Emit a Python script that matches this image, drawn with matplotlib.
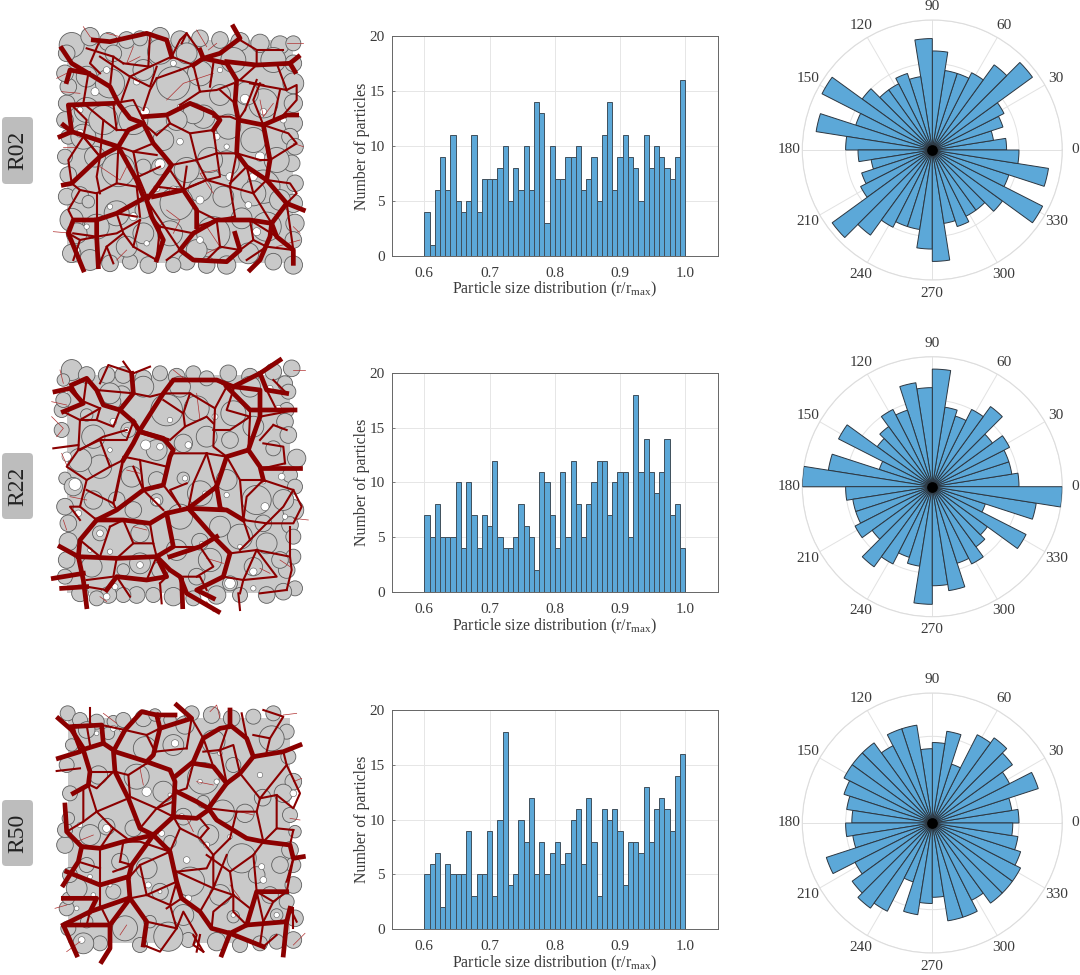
import numpy as np
import matplotlib
matplotlib.use('Agg')
import matplotlib.pyplot as plt
from matplotlib.patches import Circle, FancyBboxPatch, Rectangle

plt.rcParams['font.family'] = ['Liberation Serif', 'DejaVu Serif']
plt.rcParams['mathtext.fontset'] = 'custom'
plt.rcParams['mathtext.rm'] = 'Liberation Serif'

names = ['R02', 'R22', 'R50']

# histogram counts, 50 bins from 0.6 to 1.0
hist_r02 = [4,1,6,9,6,11,5,4,5,11,4,7,7,7,8,10,5,8,6,10,6,14,13,3,10,
            7,7,9,9,10,6,7,9,5,11,14,6,9,11,9,8,5,11,8,10,9,8,7,9,16]
hist_r22 = [7,5,8,5,5,5,10,4,10,7,4,7,6,12,5,4,4,5,8,6,5,2,11,10,7,
            4,11,5,12,8,5,8,10,12,12,7,10,11,11,5,18,11,14,11,9,11,14,7,8,4]
hist_r50 = [5,6,7,2,6,5,5,5,9,3,5,5,9,3,10,18,4,5,10,8,12,5,8,5,7,
            8,6,7,10,11,6,12,8,3,11,10,11,9,4,8,8,7,13,8,11,12,11,9,14,16]

# rose counts, 40 bins of 9 degrees from 0
rose_r02 = [12,10,12,13,20,17,14,13,13,16,18,12,13,12,12,14,20,13,19,14,
            12,10,12,13,20,17,14,13,13,16,18,12,13,12,12,14,20,13,19,14]
rose_r22 = [14,13,13,14,12,16,14,12,13,19,16,17,13,14,12,11,17,9,17,21,
            14,13,13,14,12,16,14,12,13,19,16,17,13,14,12,11,17,9,17,21]
rose_r50 = [14,13,18,14,16,17,16,10,15,13,12,16,16,14,16,16,16,15,14,13,
            14,13,18,14,16,17,16,10,15,13,12,16,16,14,16,16,16,15,14,13]

rose_angles = [0,30,60,90,120,150,180,210,240,270,300,330]

# particles, x y r at 3x scale
circles_r02 = [(215,75,30),(270,50,22),(325,65,22),(380,60,20),(420,55,18),(480,50,22),(540,60,22),(600,55,20),
    (660,60,20),(720,65,22),(780,70,22),(840,75,22),(880,70,18),(880,130,20),(880,190,25),(880,250,22),(880,310,22),
    (870,350,20),(885,380,20),(875,430,20),(885,490,20),(880,550,22),(885,610,22),(880,660,20),(880,735,22),
    (820,725,20),(745,700,25),(680,735,22),(620,735,20),(560,725,20),(520,735,18),(445,735,20),(390,725,18),
    (330,730,20),(270,720,25),(215,700,22),(215,600,28),(200,530,20),(205,465,20),(195,410,18),(205,350,18),
    (195,300,20),(200,250,20),(205,200,20),(195,160,20),(200,100,20),(480,95,30),(340,100,20),(610,290,28),
    (600,510,28),(790,250,35),(580,280,25),(685,320,30),(490,360,25),(430,440,18),(285,410,25),(355,450,40),
    (240,525,20),(265,545,15),(530,550,40),(430,640,25),(640,640,40),(725,595,25),(790,500,40),(830,420,30),
    (660,225,25),(740,220,28),(600,160,30),(520,190,40),(430,150,25),(330,190,35),(260,270,30),(250,350,30),
    (400,300,35),(310,300,35),(530,300,25),(480,440,20),(680,430,30),(760,360,30),(760,520,30),(670,530,25),
    (350,580,30),(290,620,30),(230,640,25),(510,640,30),(590,690,25),(380,680,25),(800,620,35),(840,540,25),
    (820,120,30),(700,120,30),(560,100,25),(630,420,30),(560,450,30),(260,170,25),(430,570,20)]
circles_r22 = [(215,60,25),(260,75,20),(320,75,20),(370,75,20),(430,85,20),(480,70,18),(530,80,20),(580,70,18),
    (620,85,18),(685,70,20),(750,80,20),(820,65,20),(875,55,20),(855,100,18),(865,125,18),(860,180,18),(855,215,20),
    (865,255,20),(890,325,22),(870,375,18),(885,410,18),(880,480,25),(870,525,20),(880,560,18),(880,620,18),
    (860,660,20),(885,715,18),(850,725,20),(800,735,20),(720,735,18),(650,735,22),(580,745,18),(520,740,22),
    (460,735,18),(410,735,20),(370,735,18),(325,735,20),(290,745,18),(240,730,20),(195,680,18),(200,630,20),
    (205,575,22),(205,520,20),(195,470,20),(195,385,15),(220,410,22),(185,240,18),(185,180,18),(190,90,15),
    (190,150,18),(365,135,22),(340,155,18),(280,260,28),(385,240,18),(260,195,15),(330,130,25),(430,110,25),
    (540,110,25),(590,175,30),(500,180,38),(690,270,20),(750,110,25),(820,295,18),(700,190,30),(760,230,25),
    (620,260,25),(550,280,22),(470,300,25),(395,380,25),(300,350,28),(240,330,28),(680,390,25),(550,385,15),
    (470,390,20),(600,430,30),(280,450,22),(350,450,20),(470,450,15),(770,450,35),(850,450,25),(300,550,18),
    (420,550,22),(530,600,25),(600,575,20),(720,560,30),(630,630,28),(370,660,15),(760,650,22),(840,630,20),
    (275,650,25),(420,640,25),(480,660,20),(690,700,18),(590,680,20),(800,580,25),(790,520,20),(540,500,30),
    (660,530,25),(400,480,20)]
circles_r50 = [(203,55,18),(240,75,18),(290,80,18),(340,80,15),(370,75,18),(430,70,20),(465,60,15),(510,75,15),
    (555,90,22),(575,55,18),(635,60,20),(695,70,20),(760,65,18),(820,55,18),(860,110,18),(865,185,18),(880,260,20),
    (850,295,22),(870,360,18),(885,410,15),(870,465,20),(880,510,18),(880,570,20),(860,620,18),(885,670,20),
    (880,735,20),(830,740,18),(780,745,18),(720,750,18),(650,740,22),(565,735,18),(505,725,35),(420,750,18),
    (375,700,30),(300,745,18),(250,745,25),(205,700,18),(200,640,18),(205,610,15),(230,580,25),(210,540,18),
    (195,450,20),(195,405,18),(205,370,15),(210,295,18),(200,210,18),(215,150,15),(325,115,15),(435,160,28),
    (260,105,20),(520,150,25),(640,140,28),(700,210,18),(815,130,30),(410,245,30),(295,240,22),(610,250,38),
    (490,290,25),(788,308,20),(668,350,28),(550,365,20),(735,355,22),(270,420,25),(320,395,20),(625,420,25),
    (725,490,35),(840,510,20),(510,440,15),(440,520,25),(260,510,18),(360,500,20),(570,560,35),(480,590,20),
    (340,590,18),(700,665,15),(660,600,25),(810,600,20),(830,660,15),(550,660,25),(450,680,15),(260,680,15),
    (610,320,15),(400,400,20),(770,540,20)]

# white pores between particles, x y r
pores_r02 = [(435,275,13),(285,215,12),(240,340,12),(480,432,15),(735,237,14),(780,410,14),(690,470,12),(410,185,10),
    (520,130,9),(540,365,10),(600,540,12),(520,510,12),(790,275,10),(650,350,10),(400,590,12),(470,505,10),(320,150,10),
    (660,150,8),(745,555,10),(770,635,12),(600,660,10),(230,690,9),(440,670,8),(330,560,8),(240,270,9),(850,300,9),
    (680,380,8),(260,620,8),(760,470,12),(540,260,8)]
pores_r22 = [(437,285,15),(225,403,18),(340,215,10),(200,320,14),(470,455,12),(690,700,16),(795,470,12),(680,435,8),
    (835,175,9),(810,115,9),(845,380,10),(300,550,10),(235,490,10),(480,290,10),(565,285,10),(645,200,9),(330,605,8),
    (270,600,7),(420,645,10),(345,710,9),(555,385,8),(615,430,7),(760,665,11),(760,715,8),(510,210,8),(330,300,7),
    (380,240,8),(605,580,6),(720,590,7),(790,395,7),(855,500,8),(320,740,10)]
pores_r50 = [(525,145,11),(365,105,6),(340,100,9),(440,290,14),(320,400,12),(565,610,10),(780,240,8),(880,295,10),
    (545,365,9),(485,415,9),(790,555,10),(785,515,9),(620,450,9),(690,425,7),(510,300,6),(560,495,10),(240,390,8),
    (270,545,7),(330,570,6),(445,570,9),(230,640,7),(245,735,10),(280,600,7),(660,175,7),(480,590,6),(600,260,7),
    (650,260,8),(830,660,8),(700,660,7),(290,115,7)]

# packed region left, top, right, bottom
region_r02 = (200, 60, 880, 730)
region_r22 = (200, 75, 870, 730)
region_r50 = (205, 70, 870, 745)

# force chains traced by eye, same 3x scale
heavy_r02 = [
    [(185,85),(215,130),(265,160),(330,200),(355,250),(390,295),(430,310),(460,370),(490,405),(515,435),(470,500),(440,540),(455,590),(490,660),(470,720)],
    [(280,60),(330,65),(440,40),(500,60),(515,110)],
    [(430,290),(500,285),(570,250),(640,280),(660,300),(640,330)],
    [(580,135),(610,115),(680,130),(710,180),(705,250),(715,300),(790,315),(860,285),(890,285)],
    [(610,115),(600,90)],
    [(610,115),(660,100),(720,55),(700,20)],
    [(680,125),(770,135),(870,130),(895,110)],
    [(870,130),(885,155)],
    [(715,300),(710,400),(740,440),(800,480),(860,550),(910,570)],
    [(860,550),(815,610),(750,600),(650,600),(580,640),(540,690),(580,720),(680,725),(720,690),(705,640)],
    [(815,610),(830,650),(880,690),(880,730)],
    [(815,610),(810,650),(780,720),(750,750)],
    [(440,530),(350,580),(290,600),(220,600),(205,640),(250,750)],
    [(290,600),(290,650),(295,740)],
    [(430,530),(410,480),(355,380),(300,410),(215,490),(190,495)],
    [(355,380),(385,330),(430,310)],
    [(355,380),(215,335),(180,350)],
    [(215,335),(190,315)],
    [(215,335),(205,255),(340,250)],
    [(790,315),(810,420),(800,480)],
    [(460,530),(550,510),(590,570),(590,620)],
    [(200,185),(210,150),(265,160)],
]
mid_r02 = [
    [(300,60),(270,130),(300,160)],[(370,130),(450,140),(515,110)],[(300,110),(390,170),(450,140)],[(390,170),(365,240)],
    [(390,170),(450,200),(470,140)],[(515,110),(540,60),(560,40),(610,110)],[(540,150),(580,135)],[(470,175),(450,210),(430,270)],
    [(470,175),(540,150)],[(580,135),(600,215),(650,210),(700,190)],[(600,215),(540,255)],[(720,60),(770,90),(770,135),(720,180)],
    [(750,190),(860,210),(890,195),(890,240),(850,285)],[(770,180),(735,270)],[(715,180),(790,195)],
    [(640,290),(690,290),(715,300)],[(640,330),(650,400),(710,400)],[(650,400),(590,420),(570,340),(510,310),(470,345)],
    [(470,405),(400,395),(415,470),(480,440)],[(515,435),(590,420)],[(560,440),(550,510),(510,450)],
    [(710,400),(690,500),(620,480),(570,500)],[(690,500),(705,590)],[(740,440),(690,490)],
    [(800,480),(870,490),(890,520),(860,550)],[(810,420),(890,370),(865,340),(790,315)],[(590,620),(650,600)],
    [(580,640),(480,620),(455,590)],[(350,580),(370,640),(400,680),(470,720)],[(370,640),(320,680),(295,740)],
    [(440,540),(480,600),(540,690)],[(290,650),(350,640),(420,600)],[(215,490),(240,510),(290,520),(350,490),(410,500)],
    [(290,520),(290,600)],[(240,510),(205,570),(220,600)],[(250,350),(300,410),(290,470),(300,520)],
    [(215,255),(260,300),(250,350)],[(265,160),(250,250)],[(340,250),(350,330)],[(880,690),(800,680),(740,720)],
    [(750,600),(760,660),(720,690)],
    [(260,85),(340,110),(370,130)],[(340,110),(330,200)],[(450,40),(445,140)],[(515,110),(580,135)],[(560,40),(545,70)],
    [(640,130),(630,200)],[(770,90),(850,90)],[(830,130),(860,210)],[(705,250),(660,210)],[(735,270),(715,300)],
    [(790,315),(760,240),(780,190)],[(840,210),(820,300)],[(470,345),(430,310)],[(510,310),(500,285)],[(570,340),(640,330)],
    [(400,395),(355,380)],[(415,470),(440,530)],[(460,370),(400,395)],[(590,420),(620,480)],[(650,400),(660,470),(620,480)],
    [(710,400),(780,420),(810,420)],[(740,440),(760,520),(800,480)],[(690,500),(760,520),(815,610)],[(705,590),(650,600)],
    [(550,510),(620,480)],[(590,570),(650,600)],[(470,500),(550,510)],[(510,450),(470,500)],
    [(300,410),(250,350)],[(215,490),(205,420),(250,350)],[(250,250),(310,300),(350,330)],[(310,300),(300,410)],
    [(350,330),(385,330)],[(340,250),(400,240),(430,300)],[(350,490),(355,380)],[(410,500),(420,590)],[(350,580),(410,590)],
    [(220,640),(290,650)],[(320,680),(340,730)],[(400,680),(420,600)],[(480,620),(470,720)],[(540,690),(500,720)],
    [(650,600),(660,680),(720,690)],[(660,680),(620,720)],[(750,600),(830,650)],[(760,660),(800,680)],[(860,550),(870,620),(880,690)],
    [(205,640),(240,660),(290,650)],[(240,660),(220,720)],
]
fine_r02 = [
    [(250,20),(270,50),(300,70)],[(320,40),(360,50)],[(590,30),(620,80)],[(170,175),(200,160)],[(185,215),(240,220)],
    [(160,635),(220,640)],[(625,90),(650,70)],[(400,80),(380,130),(420,110)],[(500,240),(550,190),(640,160)],
    [(780,240),(790,290),(820,250)],[(650,450),(600,460),(640,520)],[(300,440),(360,480),(380,440)],
    [(500,570),(540,600),(520,640)],[(380,690),(350,720)],[(620,620),(660,680),(620,700)],[(880,620),(900,640)],
    [(830,680),(900,660)],[(880,370),(910,380)],[(860,70),(910,70)],[(230,380),(190,380)],
]

heavy_r22 = [
    [(165,125),(210,115),(250,160),(190,185)],
    [(180,590),(235,620),(240,570),(290,510),(350,480),(430,420),(490,405),(510,320),(520,300),(490,265),(420,245),(400,215)],
    [(235,620),(350,625),(470,620),(510,660),(540,680),(560,730),(655,785)],
    [(235,620),(250,690),(260,770)],
    [(160,685),(250,670)],
    [(185,715),(260,710)],
    [(290,510),(370,510),(450,520),(500,490),(565,475),(650,410),(680,320),(745,300),(780,350),(790,390)],
    [(790,355),(900,355)],
    [(745,300),(780,200),(780,120),(700,110),(650,90),(520,90),(490,130),(420,240),(400,280),(370,330)],
    [(680,110),(750,180),(885,180)],
    [(700,110),(780,70),(840,30)],
    [(780,70),(800,120),(860,130)],
    [(565,475),(640,560),(690,610),(670,680),(590,720),(640,745)],
    [(565,475),(680,480),(730,510)],
    [(395,70),(400,130),(360,180),(310,165),(290,120),(260,85),(215,105)],
    [(360,180),(400,215)],
    [(420,245),(500,270)],
    [(650,410),(660,470)],
    [(500,490),(520,590),(470,620)],
    [(510,620),(600,590),(650,560)],
    [(470,620),(500,680),(440,690),(350,680),(320,720)],
    [(545,690),(548,770)],
]
mid_r22 = [
    [(680,320),(720,390),(730,510)],[(680,110),(645,175),(640,290),(680,320)],[(520,310),(620,310),(680,320)],
    [(620,310),(640,380),(650,410)],[(790,390),(880,420),(905,470),(880,520),(800,520),(730,510)],
    [(790,280),(850,290),(855,340)],[(780,200),(885,180)],[(820,225),(860,240)],[(700,120),(680,180),(750,200)],
    [(490,150),(550,190),(555,230),(510,270)],[(555,230),(620,200),(640,220)],[(190,185),(240,210),(300,175)],
    [(240,210),(235,300),(200,350),(260,390),(240,470),(210,470),(240,510)],[(430,420),(420,330),(370,320),(340,460)],
    [(370,330),(345,450)],[(370,510),(400,580),(460,580),(470,620)],[(330,530),(300,620)],[(430,420),(490,480)],
    [(690,610),(770,600),(870,620),(875,660),(860,720)],[(770,600),(830,680),(730,690)],[(730,510),(750,570),(720,600)],
    [(400,70),(450,50)],[(395,70),(370,35)],[(400,70),(325,45),(300,100)],[(540,680),(600,680),(620,720)],
    [(350,625),(340,680),(260,690)],[(480,700),(485,760)],[(715,730),(720,780)],[(820,90),(860,130)],
    [(160,295),(235,285)],[(240,300),(310,260),(380,240)],[(560,400),(510,420),(540,470)],
    [(215,105),(240,150),(300,175)],[(260,85),(250,160)],[(290,120),(400,130)],[(400,130),(450,140),(490,130)],
    [(360,180),(340,230),(290,210)],[(300,175),(290,210),(240,210)],[(400,215),(380,270),(300,270),(235,300)],
    [(300,270),(330,350),(370,330)],[(330,350),(260,390)],[(340,460),(260,420)],[(340,460),(350,480)],[(240,470),(290,510)],
    [(420,330),(500,350)],[(430,420),(400,350)],[(490,130),(570,130),(645,175)],[(570,130),(550,190)],[(650,90),(680,110)],
    [(750,180),(750,200),(745,300)],[(750,200),(690,240),(640,240)],[(820,225),(780,270)],[(800,120),(830,180)],
    [(855,340),(790,355)],[(720,390),(790,390)],[(730,510),(740,440),(790,390)],[(880,420),(850,470),(800,520)],
    [(620,310),(580,400),(565,475)],[(510,320),(490,405)],[(490,405),(540,470)],[(660,470),(680,480)],[(450,520),(460,580)],
    [(370,510),(330,530)],[(400,580),(350,625)],[(240,570),(300,620)],[(520,590),(600,590)],[(600,590),(640,650),(590,680)],
    [(670,680),(730,690),(770,600)],[(690,610),(670,680)],[(750,570),(800,520)],[(860,720),(780,730)],[(730,690),(720,730)],
    [(500,680),(480,700)],[(350,680),(390,740)],[(260,710),(320,720)],[(440,690),(470,620)],[(870,620),(870,530)],
]
fine_r22 = [
    [(180,60),(190,100)],[(880,60),(915,60)],[(155,155),(200,165)],[(155,200),(190,235),(170,260)],[(185,310),(200,345)],
    [(520,60),(570,100)],[(590,130),(600,210)],[(380,360),(420,370)],[(210,440),(260,450)],[(880,505),(925,510)],
    [(190,510),(200,540)],[(400,530),(440,540)],[(620,625),(670,640)],[(780,655),(810,670)],[(840,630),(870,650)],
    [(300,740),(320,755)],[(620,755),(640,785)],
]

heavy_r50 = [
    [(175,70),(215,105),(250,160),(240,170),(175,190)],
    [(250,165),(270,230),(265,270),(220,295)],
    [(215,95),(305,90),(310,145),(245,165)],
    [(310,145),(340,165),(345,230),(385,310),(420,400),(460,420),(520,365),(525,260),(510,225),(440,200),(345,170)],
    [(525,245),(580,200),(610,130),(660,100),(690,95),(690,45)],
    [(580,205),(640,215),(680,265),(720,235),(760,185),(850,170),(900,150)],
    [(760,185),(740,130),(690,90)],
    [(680,265),(625,340),(650,375),(740,430),(790,440),(870,450),(880,490),(910,485)],
    [(625,340),(590,320),(530,290)],
    [(520,365),(590,370),(625,345)],
    [(460,420),(510,470),(530,560),(545,610),(600,650),(635,700),(690,715),(740,690),(755,640),(770,590),(860,590)],
    [(690,715),(790,755)],
    [(690,715),(665,780)],
    [(740,690),(860,680),(870,640)],
    [(860,680),(850,780)],
    [(460,420),(395,510),(385,550),(390,610),(330,690),(330,760),(305,800)],
    [(385,610),(270,650),(190,690)],
    [(390,610),(440,680),(430,750)],
    [(385,545),(300,570),(200,530)],
    [(460,420),(370,440),(300,460),(245,455),(200,410),(195,330)],
    [(245,455),(235,500),(190,570)],
    [(330,690),(190,690),(230,780)],
    [(270,650),(290,610),(190,610)],
    [(525,60),(470,60),(425,50),(375,105),(345,160)],
    [(470,60),(480,100),(575,70),(530,30)],
    [(480,100),(460,180),(440,200)],
]
mid_r50 = [
    [(340,230),(290,280),(270,270)],[(440,205),(385,240),(390,305),(470,340),(520,320)],[(470,340),(420,400)],
    [(465,170),(560,160)],[(575,70),(610,130)],[(720,235),(780,310),(830,300),(880,340),(900,295),(860,210),(850,170)],
    [(780,310),(770,350),(710,350),(690,430)],[(830,300),(830,400),(880,405)],[(625,400),(600,430),(540,400),(520,365)],
    [(600,430),(640,480),(620,520),(530,530)],[(620,480),(690,530),(700,600),(750,640)],
    [(790,440),(760,480),(770,590),(790,680)],[(640,480),(640,580),(680,480)],[(510,470),(420,510),(385,550)],
    [(250,280),(250,380),(200,410)],[(300,460),(340,400),(380,430)],[(360,500),(395,510),(340,530)],
    [(300,570),(300,630)],[(440,600),(510,630),(530,560)],[(440,680),(530,700),(550,650),(590,720),(580,750),(610,770)],
    [(240,170),(220,90),(260,90)],[(680,105),(660,165),(610,170)],[(870,640),(890,680)],[(545,610),(500,640)],
    [(790,45),(850,65),(810,130),(760,120)],[(725,55),(740,130)],[(170,228),(240,220)],[(880,490),(860,560)],
    [(270,40),(270,85)],[(590,770),(600,720)],[(880,640),(880,700)],
    [(215,105),(240,170)],[(260,90),(270,150)],[(305,90),(375,105)],[(375,105),(440,120),(480,100)],[(440,120),(465,170)],
    [(560,160),(575,70)],[(345,230),(270,230)],[(265,270),(290,350),(250,380)],[(290,350),(385,310)],[(340,400),(290,350)],
    [(385,240),(345,230)],[(470,340),(520,365)],[(530,290),(470,340)],[(580,205),(560,280),(530,290)],[(640,215),(610,130)],
    [(660,165),(680,265)],[(720,235),(700,150),(660,165)],[(800,170),(810,130)],[(860,210),(780,310)],[(770,350),(790,440)],
    [(830,400),(790,440)],[(880,405),(870,450)],[(710,350),(625,340)],[(690,430),(640,480)],[(760,480),(690,530)],
    [(600,370),(625,400)],[(540,400),(510,470)],[(530,530),(640,580)],[(640,580),(700,600)],[(530,560),(440,600)],
    [(420,510),(440,600),(390,610)],[(510,470),(420,440),(370,440)],[(300,460),(300,520),(300,570)],[(235,500),(300,520)],
    [(360,500),(370,440)],[(300,630),(330,690)],[(270,650),(260,690)],[(510,630),(530,700)],[(430,750),(480,770),(530,700)],
    [(600,650),(640,580)],[(700,600),(640,650),(635,700)],[(770,590),(820,620),(860,590)],[(820,620),(790,680)],
    [(790,680),(780,750)],[(860,590),(880,490)],[(740,690),(700,650),(700,600)],[(610,770),(580,720)],[(790,755),(830,720)],
]
fine_r50 = [
    [(310,55),(350,85)],[(630,50),(650,30),(660,70)],[(850,60),(890,55)],[(880,750),(915,715)],[(200,770),(240,740)],
    [(165,640),(200,630)],[(420,220),(430,270)],[(590,260),(640,270)],[(230,440),(280,420)],[(560,370),(580,410)],
    [(690,570),(720,610)],[(360,720),(380,690)],[(720,350),(760,360)],[(880,260),(905,250)],[(870,370),(900,375)],
]

circles_all = [circles_r02, circles_r22, circles_r50]
pores_all = [pores_r02, pores_r22, pores_r50]
region_all = [region_r02, region_r22, region_r50]
heavy_all = [heavy_r02, heavy_r22, heavy_r50]
mid_all = [mid_r02, mid_r22, mid_r50]
fine_all = [fine_r02, fine_r22, fine_r50]
hist_all = [hist_r02, hist_r22, hist_r50]
rose_all = [rose_r02, rose_r22, rose_r50]

crop_top = [20, 350, 695]          # y offset of each traced panel
hist_box = [(35.7, 256), (372.7, 592.3), (710, 929.3)]
rose_cy = [150, 486.7, 823]
tag_box = [(117, 184), (453, 519), (800, 866)]

W, H = 1080, 975
bar_col = '#5CA8D8'
txt_col = '#3a3a3a'
chain_col = '#8B0000'

fig = plt.figure(figsize=(W / 100, H / 100), dpi=100)

# page axes in pixel units for the networks and the tags
page = fig.add_axes([0, 0, 1, 1])
page.set_xlim(0, W)
page.set_ylim(H, 0)
page.axis('off')

for i in range(3):
    y0 = crop_top[i]
    l, t, r_, b = region_all[i]
    page.add_patch(Rectangle((l / 3, t / 3 + y0), (r_ - l) / 3, (b - t) / 3, fc='#C9C9C9', ec='none', zorder=0.5))
    for x, y, r in circles_all[i]:
        page.add_patch(Circle((x / 3, y / 3 + y0), r * 1.25 / 3, fc='#C9C9C9', ec='#5e5e5e', lw=0.6, zorder=1))
    for x, y, r in pores_all[i]:
        page.add_patch(Circle((x / 3, y / 3 + y0), r / 3, fc='white', ec='#5e5e5e', lw=0.4, zorder=1.5))
    for p in fine_all[i]:
        p = np.array(p) / 3
        page.plot(p[:, 0], p[:, 1] + y0, color='#B03030', lw=0.5, zorder=2)
    for p in mid_all[i]:
        p = np.array(p) / 3
        page.plot(p[:, 0], p[:, 1] + y0, color=chain_col, lw=1.5, zorder=3, solid_joinstyle='round')
    for p in heavy_all[i]:
        p = np.array(p) / 3
        page.plot(p[:, 0], p[:, 1] + y0, color=chain_col, lw=3.4, zorder=4, solid_joinstyle='round')

    t0, t1 = tag_box[i]
    page.add_patch(FancyBboxPatch((6, t0 + 4), 23, t1 - t0 - 8, boxstyle='round,pad=4', fc='#BDBDBD', ec='none'))
    page.text(17.5, (t0 + t1) / 2, names[i], rotation=90, ha='center', va='center', fontsize=17, color='#222222')

    # histogram
    top, bot = hist_box[i]
    ax = fig.add_axes([391.7 / W, 1 - bot / H, (718 - 391.7) / W, (bot - top) / H])
    edges = np.linspace(0.6, 1.0, 51)
    ax.bar(edges[:-1], hist_all[i], width=0.008, align='edge', color=bar_col, edgecolor='#3f4f5c', lw=0.7, zorder=3)
    ax.set_xlim(0.55, 1.05)
    ax.set_ylim(0, 20)
    ax.set_xticks([0.6, 0.7, 0.8, 0.9, 1.0])
    ax.set_yticks([0, 5, 10, 15, 20])
    ax.grid(True, color='#e6e6e6', lw=0.7, zorder=0)
    ax.tick_params(direction='in', length=2.5, width=0.6, color='#666666', labelcolor=txt_col, labelsize=11, pad=5)
    ax.tick_params(axis='x', pad=8)
    for s in ax.spines.values():
        s.set_color('#666666')
        s.set_linewidth(0.7)
    ax.set_xlabel(r'Particle size distribution (r/r$_{\mathrm{max}}$)', fontsize=11.4, color=txt_col, labelpad=0)
    ax.set_ylabel('Number of particles', fontsize=11.4, color=txt_col, labelpad=0)

    # rose
    cy = rose_cy[i]
    pol = fig.add_axes([(932.3 - 130) / W, 1 - (cy + 130) / H, 260 / W, 260 / H], projection='polar')
    theta = np.deg2rad(np.arange(0, 360, 9))
    pol.bar(theta, rose_all[i], width=np.deg2rad(9), align='edge', color=bar_col, edgecolor='#2c3640', lw=0.7, zorder=3)
    pol.scatter([0], [0], s=45, color='black', zorder=4)
    pol.set_ylim(0, 21)
    pol.set_yticks([7, 14, 21])
    pol.set_yticklabels([])
    pol.set_thetagrids(rose_angles, [str(a) for a in rose_angles], fontsize=11, color=txt_col)
    pol.tick_params(axis='x', pad=-1)
    pol.grid(True, color='#e2e2e2', lw=0.7)
    pol.spines['polar'].set_color('#dddddd')
    pol.spines['polar'].set_linewidth(0.8)
    pol.set_axisbelow(True)

fig.savefig('out.png', dpi=100)
